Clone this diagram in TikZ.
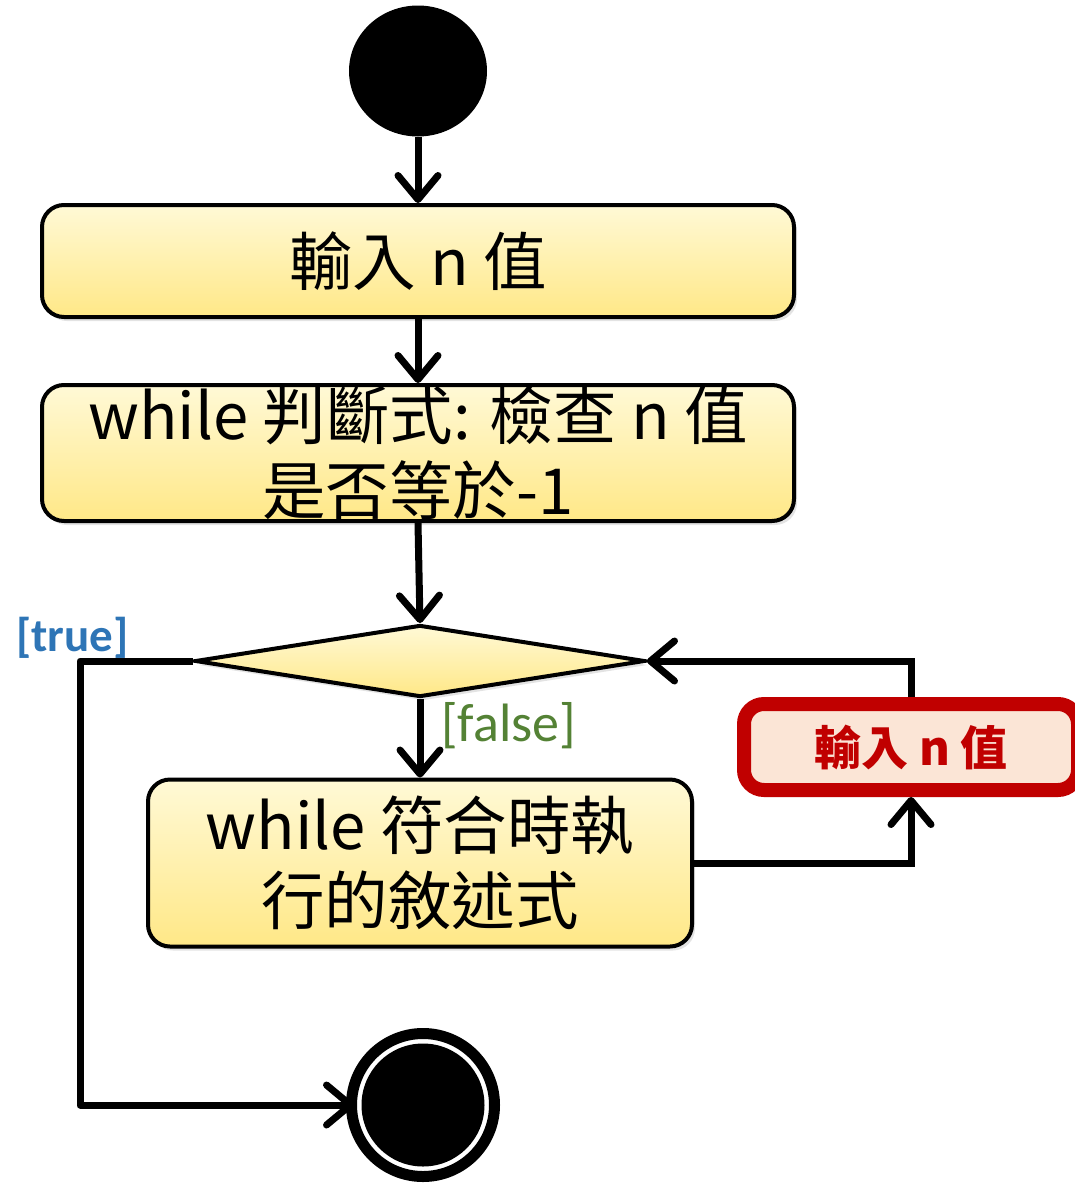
\documentclass[tikz,border=0pt]{standalone}
\usepackage{fontspec}
\newfontfamily\cjkfont{Noto Sans CJK TC}
\newfontfamily\labfont{Carlito}
\usetikzlibrary{shapes.geometric,arrows.meta,shadows}
\definecolor{ytop}{RGB}{255,249,214}
\definecolor{ybot}{RGB}{255,232,135}
\definecolor{redb}{RGB}{192,0,0}
\definecolor{redf}{RGB}{251,229,214}
\definecolor{trueblue}{RGB}{46,117,182}
\definecolor{falsegreen}{RGB}{84,130,53}
\tikzset{
  actbox/.style={draw=black, line width=4pt, rounded corners=22pt, top color=ytop, bottom color=ybot,
    inner sep=0pt, align=center, font=\cjkfont\fontsize{63.5}{75}\selectfont,
    drop shadow={shadow xshift=3pt, shadow yshift=-4pt, opacity=0.22}},
  flow/.style={line width=7pt, -{Straight Barb[length=24pt,width=40pt,round]}},
}
\begin{document}
\begin{tikzpicture}[x=1pt,y=-1pt]
\useasboundingbox (0,0) rectangle (1074,1183);
% start
\node[ellipse, fill=black, minimum width=138pt, minimum height=131pt, inner sep=0pt] (start) at (418,71) {};
% boxes
\node[actbox, minimum width=752pt, minimum height=112pt] (b1) at (418,261) {輸入 n 值};
\node[actbox, minimum width=752pt, minimum height=136pt] (b2) at (418,453) {while 判斷式: 檢查 n 值\\是否等於-1};
\node[diamond, draw=black, line width=4pt, top color=ytop, bottom color=ybot, minimum width=450pt, minimum height=72pt, inner sep=0pt,
  drop shadow={shadow xshift=3pt, shadow yshift=-4pt, opacity=0.22}] (dia) at (420,661) {};
\node[actbox, minimum width=544pt, minimum height=167pt] (b3) at (420,863) {while 符合時執\\行的敘述式};
\node[draw=redb, line width=14pt, fill=redf, rounded corners=20pt, minimum width=334pt, minimum height=86pt, inner sep=0pt,
  text=redb, font=\cjkfont\bfseries\fontsize{47}{50}\selectfont,
  drop shadow={shadow xshift=3pt, shadow yshift=-4pt, opacity=0.22}] (red) at (911,747) {輸入 n 值};
% end
\node[circle, draw=black, fill=white, line width=11pt, minimum size=143pt, inner sep=0pt] (end) at (423,1105) {};
\fill[black] (end.center) circle (61.5);
% labels
\node[anchor=west, inner sep=0pt, text=trueblue, font=\labfont\bfseries\fontsize{47}{50}\selectfont] (tl) at (16,638) {[true]};
\node[anchor=west, inner sep=0pt, text=falsegreen, font=\labfont\fontsize{54}{58}\selectfont] (fl) at (441,726) {[false]};
% connectors
\coordinate (tc) at (80,661);
\coordinate (bc) at (80,1105);
\coordinate (rc1) at (911,863);
\coordinate (rc2) at (911,661);
\draw[flow] (start.south) -- (b1.north);
\draw[flow] (b1.south) -- (b2.north);
\draw[flow] (b2.south) -- (dia.north);
\draw[flow] (dia.south) -- (b3.north);
\draw[flow, line join=round, shorten >=-8pt] (dia.west) -- (tc) -- (bc) -- (end.west);
\draw[flow] (b3.east) -- (rc1) -- (red.south);
\draw[flow] (red.north) -- (rc2) -- (dia.east);
\end{tikzpicture}
\end{document}
